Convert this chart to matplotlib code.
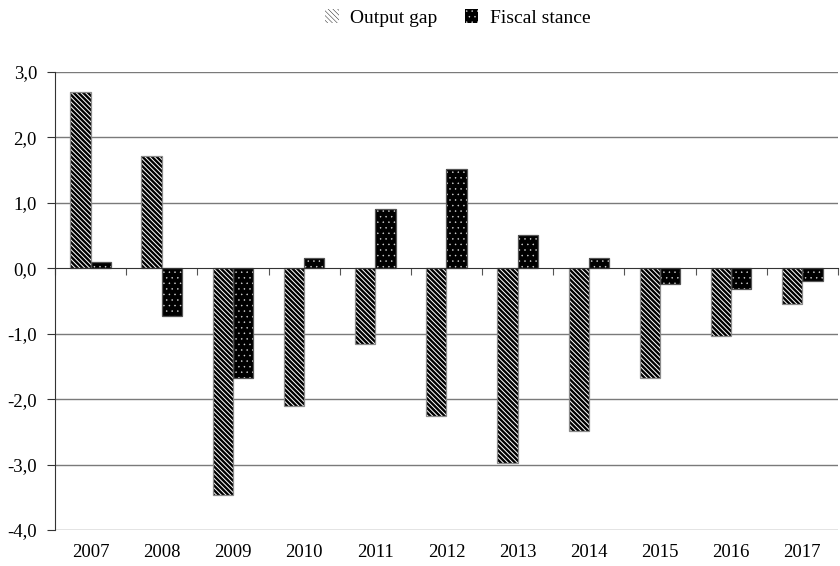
import matplotlib.pyplot as plt
import numpy as np

years = ["2007", "2008", "2009", "2010", "2011", "2012", "2013", "2014", "2015", "2016", "2017"]
output_gap = [2.69, 1.71, -3.47, -2.11, -1.16, -2.25, -2.98, -2.49, -1.67, -1.04, -0.55]
fiscal_stance = [0.09, -0.73, -1.67, 0.15, 0.91, 1.52, 0.51, 0.15, -0.24, -0.31, -0.19]
y_ticks = [-4.0, -3.0, -2.0, -1.0, 0.0, 1.0, 2.0, 3.0]

plt.rcParams["font.family"] = ["Liberation Serif", "DejaVu Serif"]

fig = plt.figure(figsize=(8.4, 5.66), dpi=100)
ax = fig.add_axes([0.0655, 0.0636, 0.932, 0.8092])

x = np.arange(len(years))
w = 0.285
# hatch linewidth is picked up when each patch is made
plt.rcParams["hatch.linewidth"] = 1.7
ax.bar(x - w / 2, output_gap, w, color="white", edgecolor="black", hatch="\\" * 7,
       linewidth=0, label="Output gap", zorder=3)
plt.rcParams["hatch.linewidth"] = 0.3
ax.bar(x + w / 2, fiscal_stance, w, color="black", edgecolor="#dddddd", hatch="...",
       linewidth=0, label="Fiscal stance", zorder=3)
ax.bar(x - w / 2, output_gap, w, fill=False, edgecolor="#8a8a8a", linewidth=0.9, zorder=4)
ax.bar(x + w / 2, fiscal_stance, w, fill=False, edgecolor="#555555", linewidth=0.9, zorder=4)

ax.set_xlim(-0.5, len(years) - 0.5)
ax.set_ylim(-4.0, 3.0)
ax.set_yticks(y_ticks)
ax.set_yticklabels([f"{v:.1f}".replace(".", ",") for v in y_ticks], fontsize=13.5)
for v in y_ticks:
    if v != 0:
        ax.axhline(v, color="#7a7a7a", linewidth=1.0, zorder=1)

for s in ["top", "right"]:
    ax.spines[s].set_visible(False)
ax.spines["left"].set_color("#333333")
ax.spines["bottom"].set_position(("data", 0))
ax.spines["bottom"].set_color("#333333")
ax.spines["bottom"].set_zorder(5)
ax.set_xticks(np.arange(len(years) + 1) - 0.5)
ax.set_xticklabels([])
ax.tick_params(axis="x", length=5, color="#555555")
ax.tick_params(axis="y", length=6, color="#333333", pad=7)

sec = ax.secondary_xaxis(0.0)
sec.set_xticks(x)
sec.set_xticklabels(years, fontsize=13.5)
sec.tick_params(length=0, pad=10)
sec.spines["bottom"].set_visible(False)

fig.legend(loc="upper center", bbox_to_anchor=(0.545, 1.015), ncol=2, frameon=False,
           fontsize=14, handlelength=0.7, handleheight=0.7, columnspacing=1.4, handletextpad=0.6)

fig.savefig("out.png", dpi=100)
